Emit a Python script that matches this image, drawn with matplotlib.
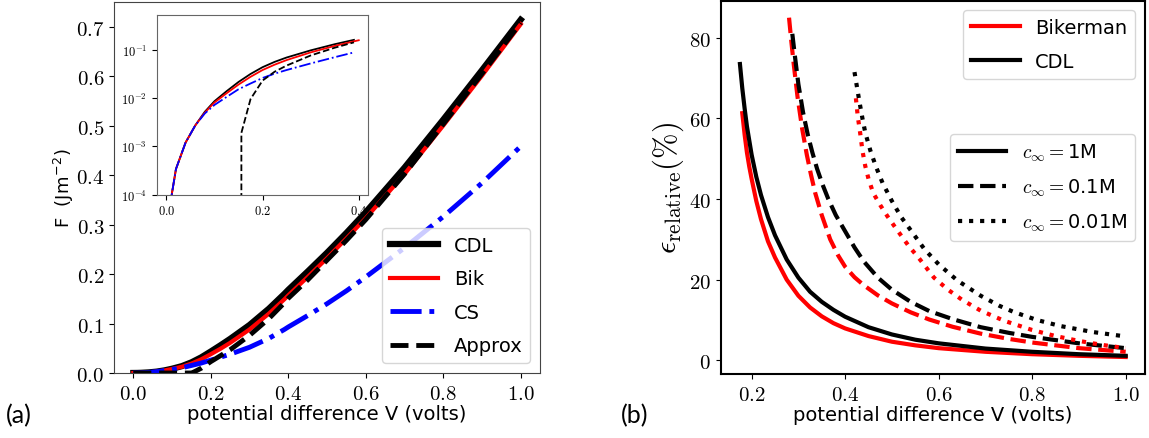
import numpy as np
import matplotlib
matplotlib.use('Agg')
import matplotlib.pyplot as plt
from matplotlib.ticker import NullLocator

plt.rcParams['mathtext.fontset'] = 'cm'
plt.rcParams['font.family'] = ['DejaVu Sans']

# ---- panel (a): free energy F vs potential difference ----
v_f = [0.0, 0.01, 0.02, 0.04, 0.06, 0.08, 0.1, 0.125, 0.15, 0.175, 0.2, 0.225,
       0.25, 0.3, 0.35, 0.39, 0.4, 0.45, 0.5, 0.55, 0.6, 0.7, 0.8, 0.9, 1.0]
f_cdl = [0.0, 8.5e-5, 3.4e-4, 1.2e-3, 2.7e-3, 5.2e-3, 8.6e-3, 0.0138, 0.0215,
         0.0315, 0.0435, 0.056, 0.069, 0.097, 0.13, 0.16, 0.168, 0.205, 0.243,
         0.283, 0.325, 0.415, 0.512, 0.612, 0.714]
f_bik = [0.0, 8.5e-5, 3.4e-4, 1.2e-3, 2.7e-3, 5.0e-3, 8.1e-3, 0.0125, 0.019,
         0.0275, 0.038, 0.049, 0.061, 0.088, 0.12, 0.149, 0.157, 0.194, 0.232,
         0.272, 0.313, 0.402, 0.5, 0.601, 0.705]
f_cs = [0.0, 8.5e-5, 3.4e-4, 1.2e-3, 2.7e-3, 4.8e-3, 7.2e-3, 0.0105, 0.0152,
        0.02, 0.026, 0.032, 0.038, 0.052, 0.07, 0.088, 0.093, 0.116, 0.14,
        0.166, 0.194, 0.253, 0.316, 0.384, 0.458]

v_apx = [0.0, 0.05, 0.1, 0.15, 0.156, 0.175, 0.2, 0.225, 0.25, 0.3, 0.35,
         0.39, 0.4, 0.45, 0.5, 0.55, 0.6, 0.7, 0.8, 0.9, 1.0]
f_apx = [0.0, 0.0, 0.0, 0.0, 1.9e-3, 9.5e-3, 0.023, 0.035, 0.047, 0.076, 0.11,
         0.142, 0.151, 0.188, 0.228, 0.268, 0.31, 0.402, 0.503, 0.605, 0.708]

xticks_a = [0.0, 0.2, 0.4, 0.6, 0.8, 1.0]
yticks_a = [0.0, 0.1, 0.2, 0.3, 0.4, 0.5, 0.6, 0.7]
inset_xticks = [0.0, 0.2, 0.4]
inset_yticks = [1e-4, 1e-3, 1e-2, 1e-1]
inset_ylabels = ['$10^{-4}$', '$10^{-3}$', '$10^{-2}$', '$10^{-1}$']

# ---- panel (b): relative error (%) vs potential difference ----
v_cdl_1 = [0.175, 0.18, 0.185, 0.19, 0.2, 0.21, 0.22, 0.235, 0.25, 0.275, 0.3,
           0.325, 0.35, 0.375, 0.4, 0.45, 0.5, 0.55, 0.6, 0.7, 0.8, 0.9, 1.0]
e_cdl_1 = [73.5, 67.5, 62.5, 58, 51, 45.5, 41, 35.5, 31, 25, 20.5,
           17, 14.5, 12.5, 10.8, 8.2, 6.4, 5.1, 4.2, 2.9, 2.1, 1.5, 1.1]
v_bik_1 = [0.18, 0.185, 0.19, 0.195, 0.2, 0.21, 0.22, 0.235, 0.25, 0.275, 0.3,
           0.325, 0.35, 0.375, 0.4, 0.45, 0.5, 0.55, 0.6, 0.7, 0.8, 0.9, 1.0]
e_bik_1 = [61.3, 56, 51.5, 48, 45, 39.5, 35, 29.5, 25.5, 20, 16,
           13.1, 10.9, 9.2, 7.9, 6.0, 4.6, 3.7, 3.0, 2.1, 1.5, 1.1, 0.8]

v_cdl_01 = [0.287, 0.292, 0.3, 0.31, 0.32, 0.33, 0.34, 0.352, 0.364, 0.38, 0.4,
            0.42, 0.44, 0.47, 0.5, 0.54, 0.58, 0.63, 0.69, 0.75, 0.8, 0.9, 1.0]
e_cdl_01 = [81, 76, 68.5, 61.5, 56, 51.5, 47.5, 43.5, 40, 36, 32,
            28, 24.5, 20.5, 17.5, 14.5, 12.2, 10.2, 8.2, 6.8, 5.8, 4.2, 3.0]
v_bik_01 = [0.28, 0.285, 0.29, 0.298, 0.308, 0.318, 0.327, 0.336, 0.35, 0.368,
            0.385, 0.4, 0.42, 0.44, 0.47, 0.5, 0.54, 0.58, 0.63, 0.69, 0.75,
            0.8, 0.9, 1.0]
e_bik_01 = [85, 79, 73.5, 65.5, 57.5, 51, 46, 41.5, 36, 30,
            26, 23.2, 20.6, 18.6, 16.1, 14.1, 11.9, 10.1, 8.3, 6.6, 5.3,
            4.4, 3.0, 2.1]

v_cdl_001 = [0.42, 0.425, 0.43, 0.437, 0.443, 0.454, 0.466, 0.48, 0.5, 0.52,
             0.545, 0.57, 0.6, 0.64, 0.69, 0.73, 0.76, 0.81, 0.86, 0.93, 1.0]
e_cdl_001 = [71.5, 68, 64.5, 60, 56.5, 52, 48, 44, 39.5, 35.5,
             31.5, 27.5, 23.8, 19.8, 16, 13.5, 12, 10, 8.5, 7, 5.9]
v_bik_001 = [0.423, 0.427, 0.432, 0.437, 0.443, 0.45, 0.46, 0.475, 0.49, 0.51,
             0.535, 0.56, 0.59, 0.62, 0.65, 0.69, 0.74, 0.8, 0.85, 0.9, 0.95, 1.0]
e_bik_001 = [65, 60.5, 56.5, 52, 48.2, 45, 41.5, 38.5, 35.8, 32.5,
             28.5, 25, 20.5, 17.5, 15, 12.3, 9.8, 7.5, 6, 4.8, 3.8, 3.0]

xticks_b = [0.2, 0.4, 0.6, 0.8, 1.0]
yticks_b = [0, 20, 40, 60, 80]

fig = plt.figure(figsize=(11.49, 4.39), dpi=100)

# panel (a)
ax = fig.add_axes([0.0992, 0.1481, 0.3708, 0.8451])
ax.plot(v_f, f_cdl, color='black', lw=4.5, label='CDL')
ax.plot(v_f, f_bik, color='red', lw=3, label='Bik')
ax.plot(v_f, f_cs, color='blue', lw=3.5, ls='-.', label='CS')
ax.plot(v_apx, f_apx, color='black', lw=3.5, ls='--', label='Approx')
ax.set_xlim(-0.05, 1.05)
ax.set_ylim(0, 0.75)
ax.set_xticks(xticks_a, labels=['$%.1f$' % t for t in xticks_a])
ax.set_yticks(yticks_a, labels=['$%.1f$' % t for t in yticks_a])
ax.tick_params(labelsize=15)
ax.set_xlabel('potential difference V (volts)', fontsize=14, labelpad=1)
ax.set_ylabel(r'F  (Jm$^{\mathdefault{-2}}$)', fontsize=13, labelpad=0)
for s in ax.spines.values():
    s.set_color('#444444')
ax.legend(loc='lower right', fontsize=14, handlelength=2.5, labelspacing=0.75)

# inset of panel (a), log scale
ins = fig.add_axes([0.1364, 0.5542, 0.1842, 0.41])
v_f_arr = np.array(v_f)
v_apx_arr = np.array(v_apx)
m = v_f_arr <= 0.39
mb = v_f_arr <= 0.4
ins.plot(v_f_arr[m], np.array(f_cdl)[m], color='black', lw=1.3)
ins.plot(v_f_arr[mb], np.array(f_bik)[mb], color='red', lw=1.3)
ins.plot(v_f_arr[m], np.array(f_cs)[m], color='blue', lw=1.3, ls='-.')
ma = v_apx_arr <= 0.39
ins.plot(v_apx_arr[ma], np.array(f_apx)[ma], color='black', lw=1.3, ls='--')
ins.set_yscale('log')
ins.set_ylim(1e-4, 0.53)
ins.set_yticks(inset_yticks, labels=inset_ylabels)
ins.yaxis.set_minor_locator(NullLocator())
ins.set_xticks(inset_xticks, labels=['$%.1f$' % t for t in inset_xticks])
ins.tick_params(labelsize=9)
for s in ins.spines.values():
    s.set_color('#666666')

# panel (b)
bx = fig.add_axes([0.6272, 0.1458, 0.3693, 0.8503])
bx.plot(v_bik_1, e_bik_1, color='red', lw=3)
bx.plot(v_cdl_1, e_cdl_1, color='black', lw=3)
bx.plot(v_bik_01, e_bik_01, color='red', lw=3, ls='--')
bx.plot(v_cdl_01, e_cdl_01, color='black', lw=3, ls='--')
bx.plot(v_bik_001, e_bik_001, color='red', lw=3, ls=':')
bx.plot(v_cdl_001, e_cdl_001, color='black', lw=3, ls=':')
bx.set_xticks(xticks_b, labels=['$%.1f$' % t for t in xticks_b])
bx.set_yticks(yticks_b, labels=['$%d$' % t for t in yticks_b])
bx.tick_params(labelsize=15)
bx.set_xlabel('potential difference V (volts)', fontsize=14, labelpad=1)
bx.set_ylabel(r'$\epsilon_{\rm relative}(\%)$', fontsize=22, labelpad=2)
for s in bx.spines.values():
    s.set_linewidth(1.5)

h1, = bx.plot([], [], color='red', lw=3, label='Bikerman')
h2, = bx.plot([], [], color='black', lw=3, label='CDL')
leg1 = bx.legend(handles=[h1, h2], loc='upper right', fontsize=14,
                 handlelength=2.5, labelspacing=0.75)
bx.add_artist(leg1)
h3, = bx.plot([], [], color='black', lw=3, ls='-', label=r'$c_\infty=$1M')
h4, = bx.plot([], [], color='black', lw=3, ls='--', label=r'$c_\infty=$0.1M')
h5, = bx.plot([], [], color='black', lw=3, ls=':', label=r'$c_\infty=$0.01M')
bx.legend(handles=[h3, h4, h5], loc='center right', fontsize=14,
          handlelength=2.5, labelspacing=0.7)

fig.text(0.005, 0.035, '(a)', fontsize=18, family='Lato')
fig.text(0.540, 0.035, '(b)', fontsize=18, family='Lato')

fig.savefig('out.png', dpi=100)
